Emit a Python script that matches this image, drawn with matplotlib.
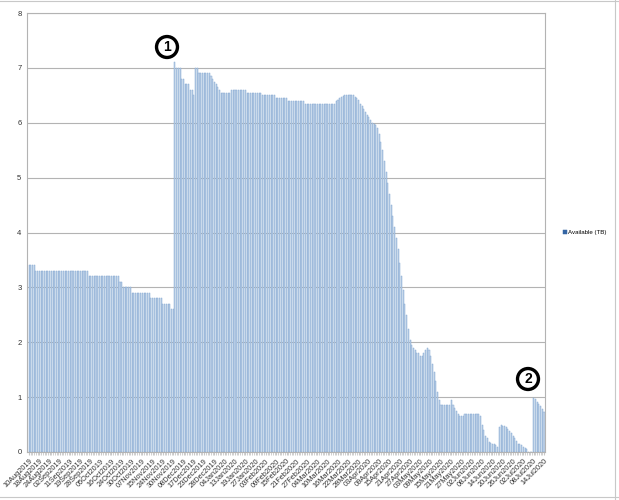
import matplotlib.pyplot as plt
import numpy as np

# available space per snapshot (TB), one bar per snapshot
avail = [
    3.4, 3.4, 3.4, 3.4,
    3.3, 3.3, 3.3, 3.3, 3.3, 3.3, 3.3, 3.3, 3.3, 3.3, 3.3, 3.3, 3.3, 3.3, 3.3, 3.3,
    3.3, 3.3, 3.3, 3.3, 3.3, 3.3, 3.3, 3.3, 3.3, 3.3, 3.3, 3.3, 3.3, 3.3, 3.3,
    3.2, 3.2, 3.2, 3.2, 3.2, 3.2, 3.2, 3.2, 3.2, 3.2, 3.2, 3.2, 3.2, 3.2, 3.2, 3.2, 3.2, 3.2,
    3.1, 3.1,
    3.0, 3.0, 3.0, 3.0, 3.0,
    2.9, 2.9, 2.9, 2.9, 2.9, 2.9, 2.9, 2.9, 2.9, 2.9, 2.9,
    2.8, 2.8, 2.8, 2.8, 2.8, 2.8, 2.8,
    2.7, 2.7, 2.7, 2.7, 2.7,
    2.6, 2.6,
    7.1, 7.0, 7.0, 7.0, 6.8, 6.8, 6.7, 6.7, 6.7, 6.6, 6.6, 6.5,
    7.0, 7.0, 6.9, 6.9, 6.9, 6.9, 6.9, 6.9, 6.9,
    6.85, 6.8, 6.75, 6.7, 6.65, 6.6,
    6.55, 6.55, 6.55, 6.55, 6.55, 6.55,
    6.6, 6.6, 6.6, 6.6, 6.6, 6.6, 6.6, 6.6, 6.6,
    6.55, 6.55, 6.55, 6.55, 6.55, 6.55, 6.55, 6.55, 6.55,
    6.5, 6.5, 6.5, 6.5, 6.5, 6.5, 6.5, 6.5,
    6.45, 6.45, 6.45, 6.45, 6.45, 6.45, 6.45,
    6.4, 6.4, 6.4, 6.4, 6.4, 6.4, 6.4, 6.4, 6.4, 6.4,
    6.35, 6.35, 6.35, 6.35, 6.35, 6.35, 6.35, 6.35, 6.35,
    6.35, 6.35, 6.35, 6.35, 6.35, 6.35, 6.35, 6.35, 6.35,
    6.4, 6.42, 6.45, 6.47, 6.48,
    6.5, 6.5, 6.5, 6.5, 6.5, 6.5,
    6.47, 6.45, 6.42, 6.35, 6.3, 6.25, 6.2, 6.15, 6.1, 6.05,
    6.0, 5.98, 5.95, 5.9, 5.8, 5.65, 5.5, 5.3, 5.1, 4.9,
    4.7, 4.5, 4.3, 4.1, 3.9, 3.7, 3.45, 3.2, 2.95, 2.7,
    2.5, 2.25, 2.05, 1.95, 1.9, 1.85, 1.8, 1.8, 1.75, 1.75,
    1.8, 1.85, 1.9, 1.85, 1.75, 1.6, 1.45, 1.3, 1.1, 0.95,
    0.85, 0.85, 0.85, 0.85, 0.85, 0.85, 0.95, 0.85, 0.8, 0.75,
    0.7, 0.65, 0.65, 0.65, 0.7, 0.7, 0.7, 0.7, 0.7, 0.7,
    0.7, 0.7, 0.7, 0.65, 0.5, 0.4, 0.3, 0.25, 0.18, 0.16,
    0.15, 0.15, 0.12, 0.1, 0.45, 0.5, 0.48, 0.47, 0.45, 0.42,
    0.38, 0.35, 0.3, 0.25, 0.2, 0.15, 0.15, 0.12, 0.1, 0.07,
    0.05, 0.0, 0.0, 0.0, 0.98, 0.96, 0.92, 0.88, 0.84, 0.78,
    0.73,
]

date_labels = [
    '10Aug2019', '18Aug2019', '24Aug2019', '02Sep2019', '11Sep2019', '19Sep2019',
    '28Sep2019', '05Oct2019', '16Oct2019', '24Oct2019', '30Oct2019', '07Nov2019',
    '15Nov2019', '24Nov2019', '30Nov2019', '08Dec2019', '17Dec2019', '23Dec2019',
    '28Dec2019', '04Jan2020', '13Jan2020', '19Jan2020', '27Jan2020', '03Feb2020',
    '09Feb2020', '15Feb2020', '21Feb2020', '27Feb2020', '04Mar2020', '10Mar2020',
    '16Mar2020', '22Mar2020', '28Mar2020', '03Apr2020', '09Apr2020', '15Apr2020',
    '21Apr2020', '27Apr2020', '03May2020', '09May2020', '15May2020', '21May2020',
    '27May2020', '02Jun2020', '08Jun2020', '14Jun2020', '20Jun2020', '26Jun2020',
    '02Jul2020', '08Jul2020', '14Jul2020',
]
label_step = 6

plt.rcParams['font.family'] = ['Liberation Sans', 'DejaVu Sans']

fig = plt.figure(figsize=(6.19, 5.0), dpi=100)
ax = fig.add_axes([27/619, 48/500, 518/619, 439/500])

x = np.arange(len(avail))
ax.bar(x, avail, width=0.62, color='#c6d6ea', edgecolor='#86a9d2', linewidth=0.35,
       label='Available (TB)', zorder=2)

ax.set_xlim(-1.2, len(avail) - 0.4)
ax.set_ylim(0, 8)
ax.set_yticks(range(9))
ax.tick_params(axis='y', labelsize=5.5, length=0, pad=4, colors='#333333')
ax.yaxis.grid(True, color='#b3b3b3', linewidth=0.8, zorder=0)

ax.set_xticks(x[::label_step])
ax.set_xticklabels(date_labels, rotation=45, ha='right', rotation_mode='anchor',
                   fontsize=5.3, color='#333333')
ax.set_xticks(x, minor=True)
ax.tick_params(axis='x', which='both', length=2, color='#c8c8c8', pad=2)

for s in ['left', 'right', 'bottom', 'top']:
    ax.spines[s].set_color('#b3b3b3')
    ax.spines[s].set_linewidth(0.8)

leg = ax.legend(loc='center left', bbox_to_anchor=(1.025, 0.5), frameon=False,
                fontsize=4.4, handlelength=0.5, handleheight=0.5, handletextpad=0.3)
for h in leg.legend_handles:
    h.set_facecolor('#3465a4')
    h.set_edgecolor('#3465a4')

# hand-drawn markers
fig.text(167/619, 1 - 47/500, '1', fontsize=10, fontweight='bold', ha='center', va='center',
         bbox=dict(boxstyle='circle,pad=0.25', fc='none', ec='black', lw=2.4))
fig.text(528/619, 1 - 379/500, '2', fontsize=10, fontweight='bold', ha='center', va='center',
         bbox=dict(boxstyle='circle,pad=0.25', fc='none', ec='black', lw=2.4))

# spreadsheet cell borders around the chart
for yy in [499/500, 3/500]:
    fig.add_artist(plt.Line2D([0, 1], [yy, yy], color='#c8c8c8', lw=0.8))
fig.add_artist(plt.Line2D([615/619, 615/619], [0, 1], color='#c8c8c8', lw=0.8))

fig.savefig('out.png', dpi=100)
